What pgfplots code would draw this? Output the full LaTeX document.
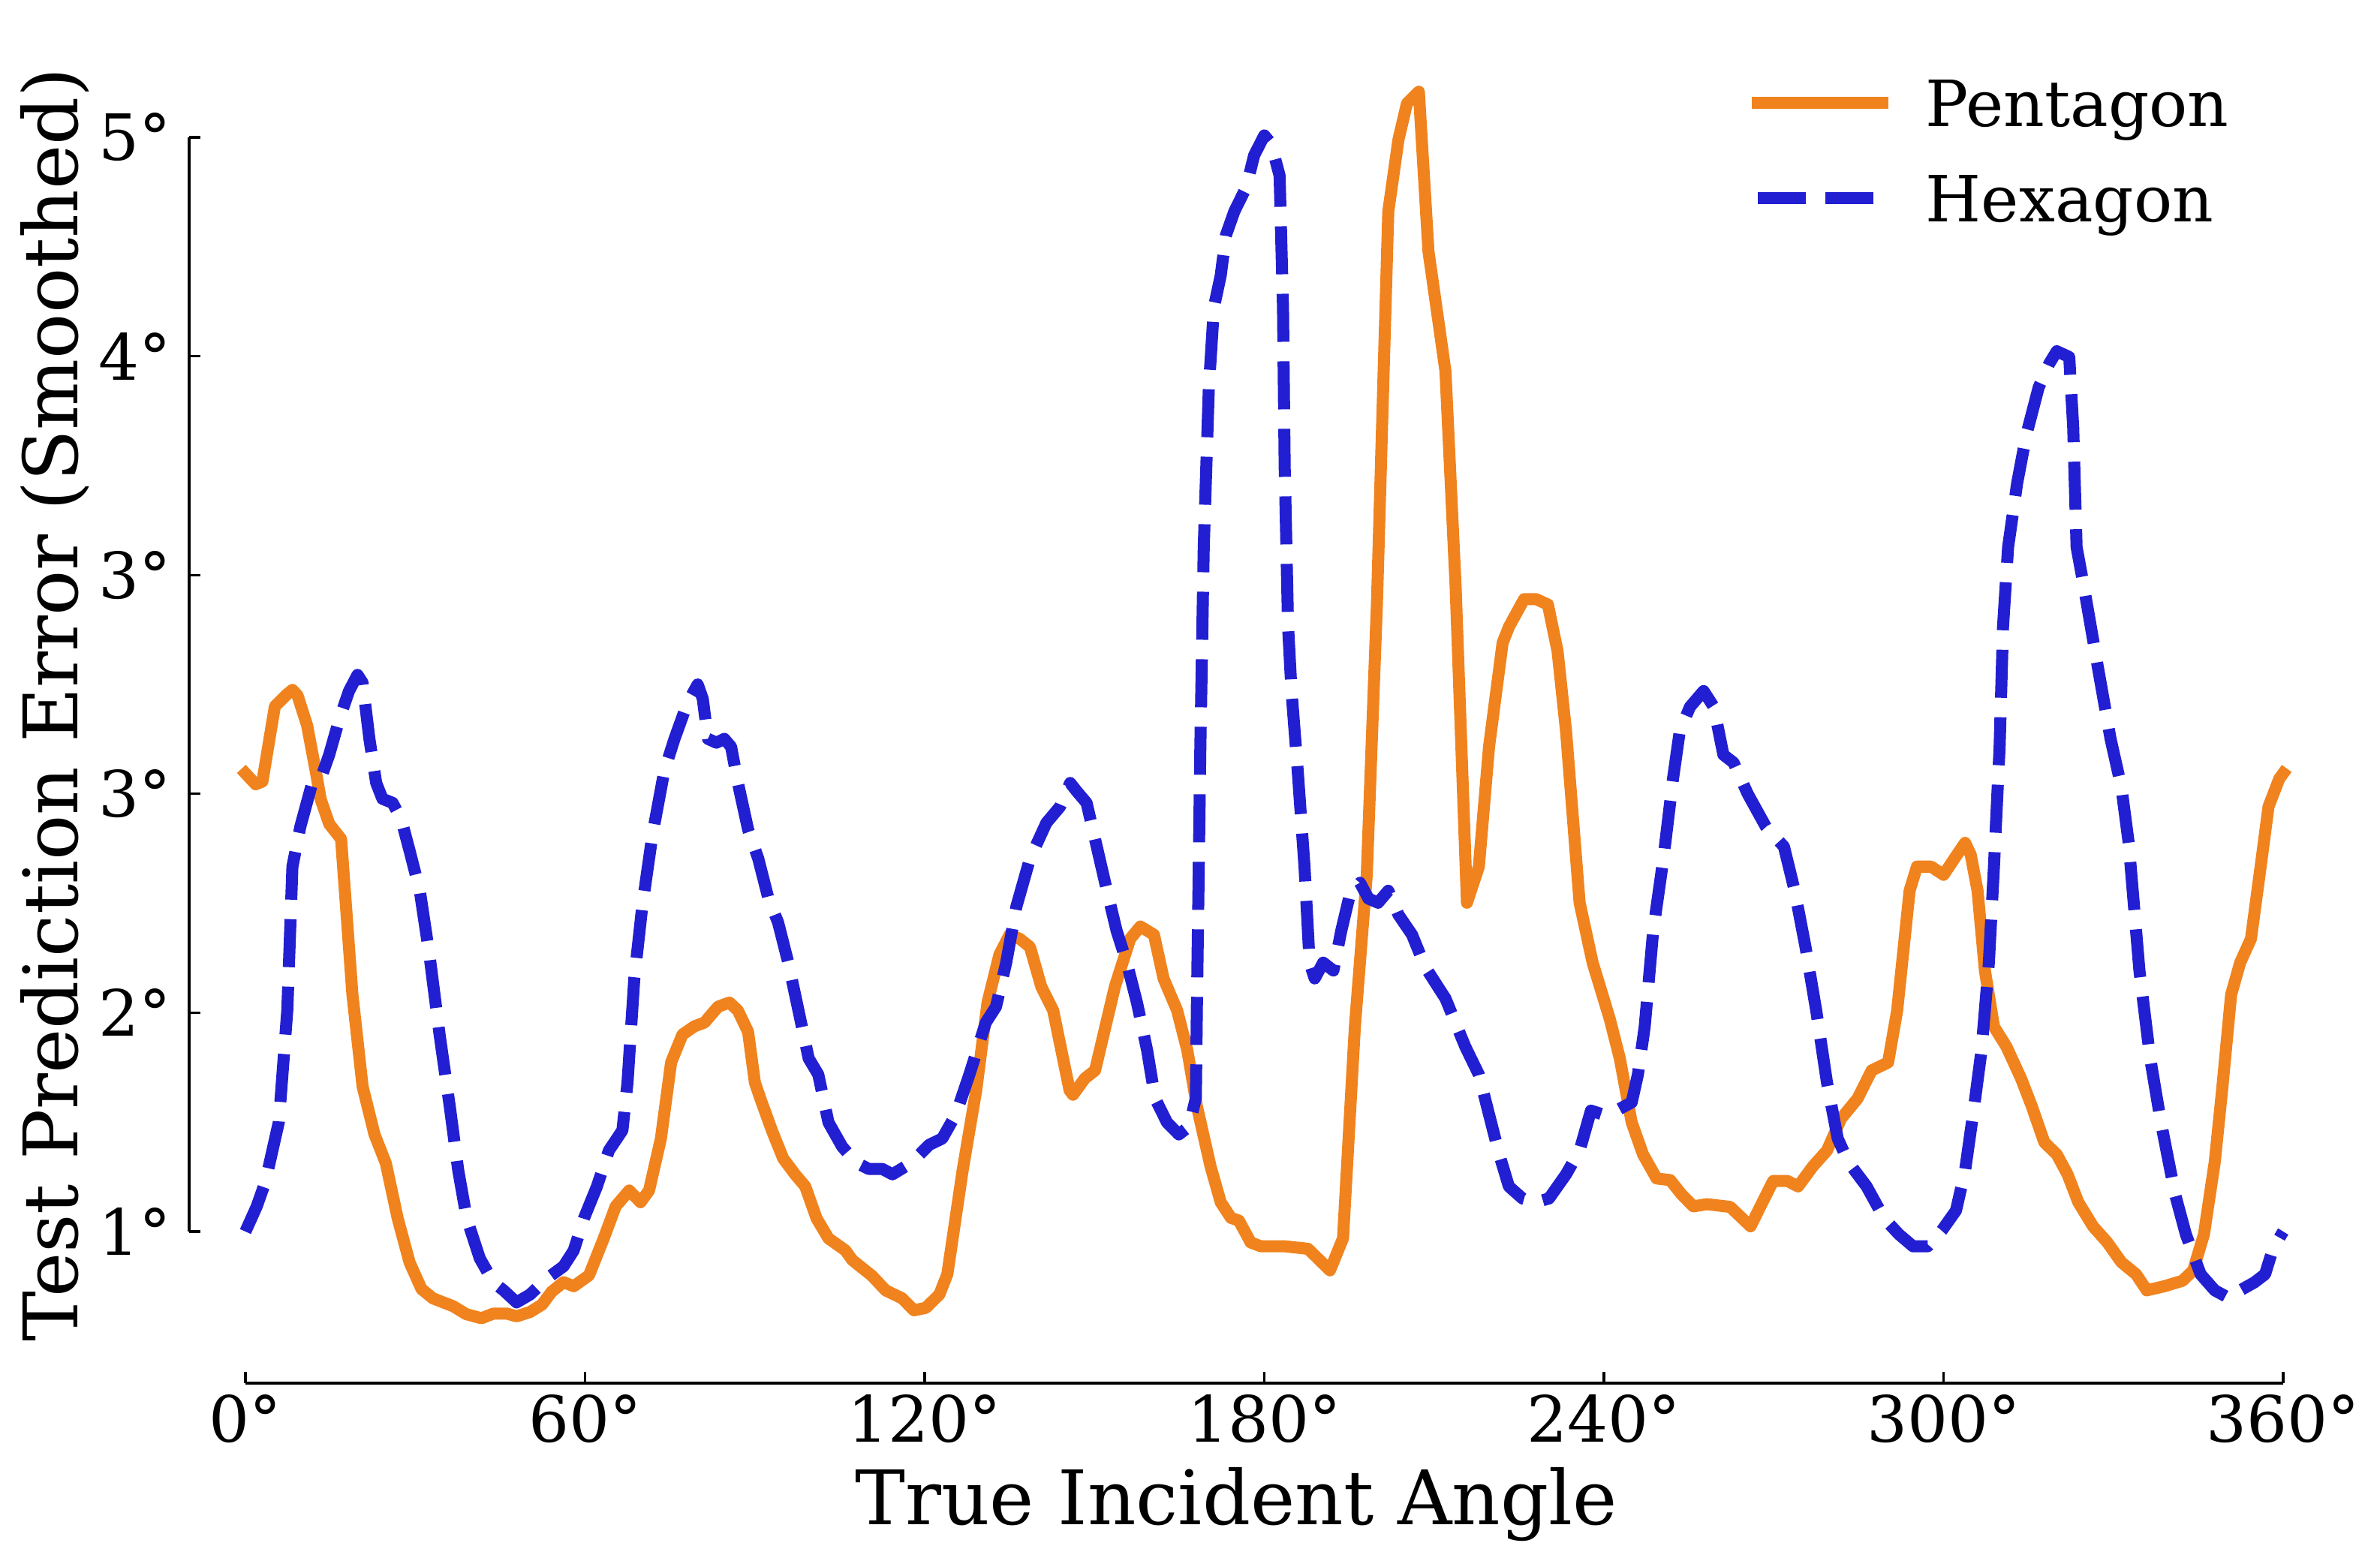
\documentclass[border=0pt]{standalone}
\usepackage{fontspec}
\setmainfont{DejaVu Serif}
\usepackage{pgfplots}
\pgfplotsset{compat=1.18}
\definecolor{penta}{RGB}{240,131,30}
\definecolor{hexa}{RGB}{34,30,210}
\begin{document}
\begin{tikzpicture}
\path[use as bounding box] (-35.71pt,-34.01pt) rectangle (413.62pt,261.15pt);
\begin{axis}[
  scale only axis, width=395.34pt, height=256.19pt,
  xmin=-9.944, xmax=360, ymin=0.4458, ymax=5.406,
  clip=false,
  axis x line*=bottom, axis y line*=left,
  axis line style={draw=none},
  tick align=inside,
  major tick length=2.07pt,
  tick style={black, line width=0.47pt},
  xtick={0,60,120,180,240,300,360},
  xticklabels={0°,60°,120°,180°,240°,300°,360°},
  ytick={1,1.8,2.6,3.4,4.2,5},
  yticklabels={1°,2°,3°,3°,4°,5°},
  tick label style={font=\fontsize{12.04}{14}\selectfont, inner sep=0pt},
  xticklabel style={anchor=base, yshift=-11.19pt},
  yticklabel style={anchor=east, xshift=-3.26pt},
  xlabel={True Incident Angle},
  ylabel={Test Prediction Error (Smoothed)},
  label style={font=\fontsize{14.2}{17}\selectfont, inner sep=0pt},
  xlabel style={at={(rel axis cs:0.5,-0.1045)}, anchor=base},
  ylabel style={at={(rel axis cs:-0.0534,0.5)}, anchor=base},
  legend style={draw=none, fill=none, at={(rel axis cs:0.9739,0.9607)}, anchor=north east,
    inner sep=0pt, outer sep=0pt, row sep=6.2pt,
    font=\fontsize{12.04}{14}\selectfont,
    nodes={inner sep=0pt, text height=8.8pt, text depth=3pt},
    cells={anchor=base west},
    /tikz/every odd column/.append style={column sep=7.1pt}},
  legend image code/.code={\draw[#1] (0pt,4.4pt) -- (23.5pt,4.4pt);},
]
\addplot[penta, line width=2.27pt, line join=round, line cap=rect] coordinates {
(0,2.675) (1.8,2.635) (3.0,2.645) (5.2,2.92) (7.4,2.965) (8.3,2.98) (9.2,2.96)
(10.9,2.85) (12.4,2.685) (13.3,2.58) (14.8,2.49) (16.9,2.435) (18.9,1.866)
(20.7,1.53) (22.8,1.355) (24.8,1.25) (26.9,1.048) (29.0,0.887) (31.1,0.79)
(33.1,0.756) (36.7,0.727) (39.0,0.698) (41.7,0.683) (43.8,0.70) (46.2,0.70)
(47.9,0.69) (50.3,0.706) (52.4,0.733) (54.1,0.78) (56.2,0.815) (58.0,0.80)
(60.7,0.84) (63.3,0.975) (65.4,1.092) (67.8,1.15) (69.8,1.107) (71.3,1.15)
(73.4,1.34) (75.2,1.618) (77.2,1.72) (79.3,1.75) (81.1,1.764) (83.5,1.822)
(85.5,1.837) (87.0,1.808) (88.8,1.73) (90.0,1.545) (90.9,1.49) (93.0,1.37)
(95.0,1.267) (97.1,1.209) (98.9,1.165) (100.9,1.048) (103.0,0.975) (106.0,0.931)
(107.2,0.896) (110.7,0.838) (113.1,0.785) (116.0,0.756) (118.1,0.712) (120.2,0.721)
(122.6,0.77) (124.0,0.844) (126.7,1.223) (129.1,1.516) (131.1,1.837) (133.2,2.012)
(135.0,2.085) (136.8,2.07) (138.6,2.04) (140.6,1.895) (142.7,1.808) (145.6,1.516)
(146.2,1.50) (148.3,1.56) (150.1,1.589) (153.6,1.895) (156.3,2.07) (158.1,2.115)
(160.5,2.085) (162.2,1.925) (164.6,1.808) (166.4,1.662) (168.1,1.457) (170.5,1.238)
(172.3,1.107) (174.1,1.05) (175.5,1.04) (177.6,0.96) (179.4,0.946) (183.6,0.946)
(187.7,0.937) (191.6,0.858) (193.9,0.975) (196.0,1.749) (198.1,2.304) (199.9,3.298)
(201.9,4.729) (203.7,4.992) (205.2,5.124) (207.3,5.167) (209.0,4.583) (212.0,4.145)
(213.8,3.356) (215.8,2.202) (217.9,2.334) (219.7,2.772) (222.1,3.152) (223.2,3.21)
(225.9,3.312) (228.0,3.312) (230.1,3.292) (231.8,3.122) (233.3,2.83) (235.7,2.202)
(238.0,1.983) (241.0,1.779) (242.8,1.633) (244.9,1.399) (246.9,1.282) (249.3,1.194)
(251.7,1.188) (253.7,1.136) (255.8,1.092) (258.2,1.1) (262.3,1.09) (265.9,1.019)
(268.0,1.107) (269.9,1.185) (272.4,1.185) (274.3,1.165) (276.9,1.238) (279.4,1.296)
(281.9,1.413) (284.8,1.486) (287.3,1.589) (290.2,1.618) (291.8,1.808) (294.0,2.246)
(295.3,2.334) (297.8,2.334) (300.0,2.304) (301.9,2.363) (303.8,2.421) (304.8,2.377)
(306.0,2.246) (307.3,1.954) (308.9,1.749) (311.1,1.676) (313.7,1.559) (315.6,1.457)
(317.8,1.326) (320.0,1.282) (321.9,1.209) (323.8,1.107) (326.4,1.019) (328.9,0.961)
(331.4,0.888) (334.0,0.844) (335.9,0.785) (339.0,0.80) (342.2,0.82) (344.1,0.858)
(346.0,0.99) (347.9,1.253) (349.2,1.516) (350.8,1.866) (352.4,1.983) (354.3,2.07)
(356.2,2.363) (357.4,2.553) (359.3,2.655) (360,2.675)
};
\addlegendentry{Pentagon}
\addplot[hexa, line width=2.27pt, line join=round, line cap=butt, dash pattern=on 9.07pt off 3.68pt] coordinates {
(0,1.0) (2.0,1.092) (3.5,1.18) (5.9,1.4) (7.4,1.81) (8.3,2.334) (9.7,2.48)
(11.8,2.64) (13.3,2.655) (14.8,2.743) (16.6,2.874) (18.3,2.976) (19.8,3.035)
(20.7,3.006) (21.9,2.801) (23.1,2.64) (24.2,2.582) (26.0,2.567) (27.5,2.509)
(29.0,2.392) (30.8,2.246) (32.5,2.012) (34.3,1.72) (36.1,1.457) (37.6,1.223)
(39.1,1.048) (41.4,0.902) (43.8,0.814) (45.6,0.785) (47.9,0.741) (50.3,0.77)
(53.3,0.829) (56.2,0.873) (58.0,0.931) (59.8,1.048) (62.1,1.165) (64.2,1.296)
(66.6,1.37) (67.5,1.545) (68.7,1.925) (70.1,2.188) (71.9,2.45) (74.0,2.684)
(75.8,2.801) (78.1,2.933) (79.9,3.0) (80.8,2.947) (81.7,2.801) (83.2,2.787)
(84.6,2.801) (85.8,2.772) (87.0,2.64) (88.8,2.47) (90.6,2.363) (92.4,2.217)
(94.1,2.13) (95.9,1.983) (97.7,1.808) (99.5,1.633) (101.2,1.574) (103.0,1.399)
(105.4,1.311) (107.8,1.253) (110.1,1.229) (112.5,1.229) (114.3,1.209) (116.6,1.238)
(118.4,1.267) (120.8,1.317) (123.1,1.34) (125.5,1.428) (127.9,1.574) (130.8,1.764)
(132.6,1.822) (134.4,1.983) (136.2,2.188) (138.6,2.363) (141.5,2.494) (143.9,2.553)
(145.7,2.64) (146.8,2.611) (148.6,2.567) (150.4,2.407) (152.2,2.246) (153.9,2.1)
(155.7,1.983) (157.5,1.837) (159.3,1.662) (160.7,1.487) (162.8,1.399) (164.9,1.355)
(166.7,1.384) (167.9,1.487) (168.1,1.837) (168.7,2.772) (169.3,3.502) (170.2,4.086)
(171.1,4.379) (172.3,4.495) (173.2,4.641) (174.7,4.729) (176.8,4.817) (178.2,4.934)
(180.0,5.007) (181.2,4.977) (182.7,4.86) (183.3,4.379) (183.6,3.794) (184.2,3.21)
(184.8,2.976) (185.9,2.684) (187.1,2.334) (188.0,1.983) (188.9,1.925) (190.4,1.983)
(192.2,1.954) (193.6,2.1) (195.1,2.231) (196.9,2.275) (198.4,2.217) (200.1,2.202)
(201.9,2.246) (203.7,2.158) (206.1,2.085) (208.4,1.968) (212.0,1.852) (215.5,1.676)
(217.9,1.574) (219.7,1.428) (221.5,1.282) (223.2,1.165) (225.6,1.121) (228.0,1.107)
(230.3,1.121) (233.3,1.209) (235.7,1.296) (237.7,1.442) (239.8,1.428) (242.2,1.442)
(244.9,1.472) (246.0,1.574) (247.2,1.749) (248.7,2.1) (250.5,2.363) (252.2,2.655)
(253.4,2.83) (255.2,2.918) (257.6,2.976) (259.4,2.918) (261.1,2.743) (262.9,2.714)
(265.4,2.6) (268.6,2.48) (271.8,2.407) (273.7,2.246) (275.6,2.041) (277.5,1.808)
(279.4,1.545) (281.3,1.34) (283.2,1.253) (286.4,1.165) (289.5,1.048) (292.1,0.99)
(294.6,0.946) (297.2,0.946) (299.7,1.004) (302.2,1.077) (303.8,1.223) (305.4,1.457)
(306.7,1.662) (308.0,1.983) (308.9,2.334) (309.9,2.772) (310.5,3.21) (311.4,3.502)
(313.0,3.736) (314.6,3.911) (316.8,4.086) (318.7,4.174) (320.0,4.218) (322.2,4.197)
(322.9,3.94) (323.5,3.502) (324.8,3.356) (327.0,3.093) (329.5,2.801) (331.4,2.626)
(332.7,2.421) (334.6,1.954) (336.5,1.633) (338.4,1.399) (340.9,1.136) (342.8,0.99)
(345.4,0.844) (347.9,0.785) (350.5,0.756) (352.4,0.785) (354.9,0.814) (356.8,0.844)
(358.1,0.931) (359.7,0.99) (360,1.0)
};
\addlegendentry{Hexagon}
\draw[line width=0.47pt] (axis cs:0,0.4458) -- (axis cs:360,0.4458);
\draw[line width=0.47pt] (axis cs:-9.944,1) -- (axis cs:-9.944,5);
\end{axis}
\end{tikzpicture}
\end{document}
